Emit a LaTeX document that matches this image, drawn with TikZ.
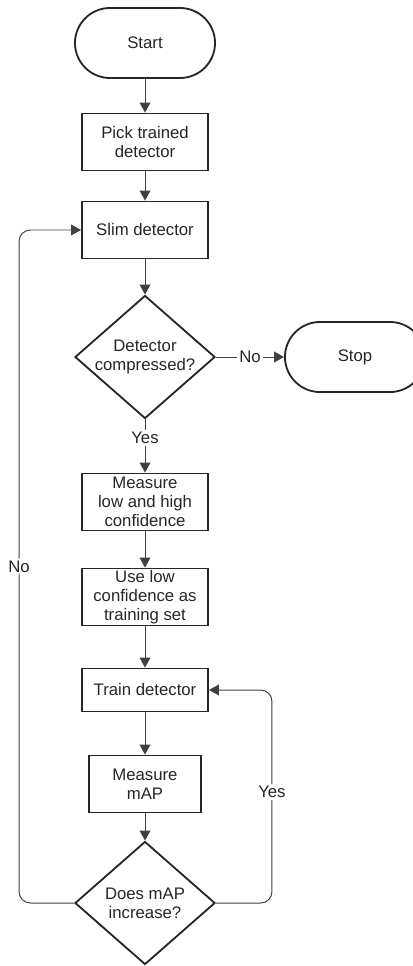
\documentclass[tikz,border=0pt]{standalone}
\usepackage{fontspec}
\setmainfont{Liberation Sans}
\usetikzlibrary{shapes.geometric, arrows.meta}

\tikzset{
  base/.style={draw=black!85,line width=1.3pt,text=black!85,align=center,font=\fontsize{11.9}{13.7}\selectfont},
  process/.style={base,shape=rectangle,minimum width=3.15cm,minimum height=1.425cm,inner sep=1pt},
  decision/.style={base,shape=diamond,aspect=1.14,minimum width=3.5cm,minimum height=3.075cm,inner sep=-1pt},
  terminal/.style={base,shape=rectangle,rounded corners=0.875cm,minimum width=3.5cm,minimum height=1.75cm},
  line/.style={draw=black!75,line width=0.7pt,-{Triangle[length=0.25cm,width=0.27cm]}},
  lbl/.style={fill=white,text=black!85,inner sep=1.5pt,font=\fontsize{11.9}{13.7}\selectfont}
}

\begin{document}
\begin{tikzpicture}[x=0.025cm,y=-0.025cm]
            \useasboundingbox (0,0) rectangle (413,966);

            \node[terminal](n1)at(145,43){Start};
            \node[process](n2)at(145,142){Pick trained\\detector};
            \node[process](n3)at(145,230){Slim detector};
            \node[decision](n4)at(145,357){Detector\\compressed?};
            \node[terminal](n5)at(355,357){Stop};
            \node[process](n6)at(145,502){Measure\\low and high\\confidence};
            \node[process](n7)at(145,597){Use low\\confidence as\\training set};
            \node[process,minimum height=1.075cm](n8)at(145,690){Train detector};
            \node[process,minimum width=2.8cm](n9)at(145,784){Measure\\mAP};
            \node[decision](n10)at(145,903){Does mAP\\increase?};

            \draw[line](n1)to(n2);
            \draw[line](n2)to(n3);
            \draw[line](n3)to(n4);
            \draw[line](n4)to node[lbl]{No}(n5);
            \draw[line](n4)to node[lbl,pos=0.35]{Yes}(n6);
            \draw[line](n6)to(n7);
            \draw[line](n7)to(n8);
            \draw[line](n8)to(n9);
            \draw[line](n9)to(n10);

            % loops back
            \draw[line,rounded corners=8](n10.west)--++(-55,0)|-node[lbl,pos=0.25]{No}(n3.west);
            \draw[line,rounded corners=8](n10.east)--++(56,0)|-node[lbl,pos=0.26]{Yes}(n8.east);
\end{tikzpicture}
\end{document}
